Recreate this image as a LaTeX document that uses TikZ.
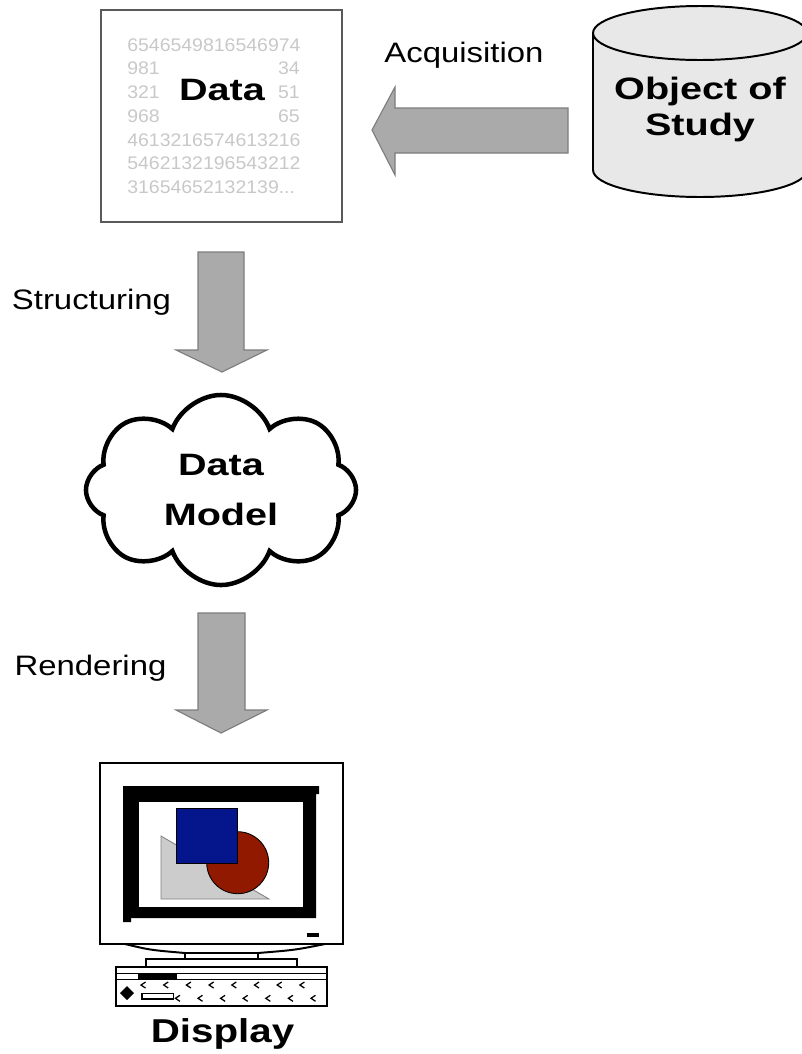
\documentclass[tikz,border=0pt]{standalone}
\usepackage{fontspec}
\setmainfont{Liberation Sans}
\newfontfamily\labelfont[FakeStretch=1.17]{Liberation Sans}
\newfontfamily\titlefont[FakeStretch=1.28]{Liberation Sans}
\newfontfamily\displayfont[FakeStretch=1.22]{Liberation Sans}
\newfontfamily\digitfont[FakeStretch=1.065]{Liberation Sans}
\usetikzlibrary{shapes.symbols}

\definecolor{arrowgray}{RGB}{170,170,170}
\definecolor{arrowedge}{RGB}{125,125,125}
\definecolor{cylgray}{RGB}{232,232,232}
\definecolor{digitgray}{RGB}{200,200,200}
\definecolor{boxedge}{RGB}{90,90,90}
\definecolor{shapeblue}{RGB}{5,22,140}
\definecolor{shapered}{RGB}{145,25,0}
\definecolor{shapegray}{RGB}{204,204,204}

\begin{document}
\begin{tikzpicture}[x=0.025cm, y=-0.025cm,
	blockarrow/.style={fill=arrowgray, draw=arrowedge, line width=0.8pt},
	lbl/.style={font=\labelfont\fontsize{20}{24}\selectfont, inner sep=0, anchor=base},
	title/.style={font=\titlefont\bfseries\fontsize{22}{24.9}\selectfont, align=center, inner sep=0},
	digit/.style={inner sep=0, text=digitgray, font=\digitfont\fontsize{13}{16.9}\selectfont},
	monline/.style={draw=black, line width=1.4pt},
	chevron/.style={draw=black, line width=0.9pt}]
	\useasboundingbox (0,0) rectangle (802,1054);

	% data sheet
	\node (databox) [draw=boxedge, line width=1pt, minimum width=6.025cm, minimum height=5.3cm, inner sep=0] at (221.5,116) {};
	\node (digitsl) [digit, anchor=north west, align=left] at (127,38)
		{6546549816546974\\981\\321\\968\\4613216574613216\\5462132196543212\\31654652132139...};
	\node (digitsr) [digit, anchor=north east, align=right] at (300.1,61.8) {34\\51\\65};
	\node (data) [title] at (222,90) {Data};

	% object of study
	\filldraw[fill=cylgray, line width=1.4pt] (593,33) -- (593,170) arc[start angle=180, end angle=0, x radius=107, y radius=27]
		-- (807,33) arc[start angle=0, end angle=-180, x radius=107, y radius=27] -- cycle;
	\draw[line width=1.4pt] (593,33) arc[start angle=180, end angle=0, x radius=107, y radius=27];
	\node (object) [title] at (700,109.5) {Object of\\Study};

	% acquisition
	\node (acqlbl) [lbl] at (464,62) {Acquisition};
	\coordinate (acqtip) at (372,130);
	\draw[blockarrow, shift={(acqtip)}] (0,0) -- (23,-43) -- (23,-22) -- (196,-22) -- (196,23) -- (23,23) -- (23,45) -- cycle;

	% structuring
	\node (strlbl) [lbl] at (91.5,309) {Structuring};
	\coordinate (strtip) at (222,372);
	\draw[blockarrow, shift={(strtip)}] (0,0) -- (-46,-22) -- (-24,-22) -- (-24,-120) -- (22,-120) -- (22,-22) -- (45,-22) -- cycle;

	% data model
	\node (model) [cloud, draw, line width=3.2pt, cloud puffs=8, cloud puff arc=140, aspect=1.45,
		minimum width=6.75cm, minimum height=4.75cm, title, font=\titlefont\bfseries\fontsize{22}{35.6}\selectfont] at (221,490) {Data\\Model};

	% rendering
	\node (renlbl) [lbl] at (90.5,675) {Rendering};
	\coordinate (rentip) at (221,733);
	\draw[blockarrow, shift={(rentip)}] (0,0) -- (-45,-23) -- (-23,-23) -- (-23,-120) -- (24,-120) -- (24,-23) -- (46,-23) -- cycle;

	% monitor
	\draw[monline, fill=white] (100,763) rectangle (343,944);
	\fill (123,786) -- (319,786) -- (319,794) -- (316,794) -- (316,918) -- (131,918) -- (131,922) -- (123,922) -- cycle;
	\fill[white] (139,802) rectangle (303,907);
	\fill (307,933) rectangle (319,937);
	\filldraw[fill=shapegray, draw=gray, line width=0.6pt] (161,836) -- (161,899) -- (269,899) -- cycle;
	\filldraw[fill=shapered, draw=black, line width=0.6pt] (237.7,862.7) circle[radius=31];
	\filldraw[fill=shapeblue, draw=black, line width=0.6pt] (176,808.7) rectangle (237.7,863.3);
	\draw[monline] (125,944) .. controls (150,950) .. (185,953) -- (258,953) .. controls (295,950) .. (325,944);
	\draw[monline] (185,953) -- (185,959) (258,953) -- (258,959);
	\draw[monline, fill=white] (146,959) rectangle (297,967);
	\draw[monline, fill=white] (116,967) rectangle (327,1006);
	\draw[line width=1pt] (116,973.3) -- (327,973.3) (116,979.3) -- (327,979.3);
	\fill (138,974) rectangle (177,980);
	\fill (127,986) -- (134,993) -- (127,1000) -- (120,993) -- cycle;
	\draw[line width=0.8pt] (142,993.3) rectangle (173.3,999);
	\foreach \i in {0,...,7}
		\draw[chevron] (145.5+22.7*\i,982) -- (141+22.7*\i,985) -- (145.5+22.7*\i,988);
	\foreach \i in {0,...,6}
		\draw[chevron] (179.9+22.6*\i,995.3) -- (175.4+22.6*\i,998.3) -- (179.9+22.6*\i,1001.3);
	\node (display) [font=\displayfont\bfseries\fontsize{23.5}{28}\selectfont, inner sep=0, anchor=base] at (222.5,1042) {Display};
\end{tikzpicture}
\end{document}
